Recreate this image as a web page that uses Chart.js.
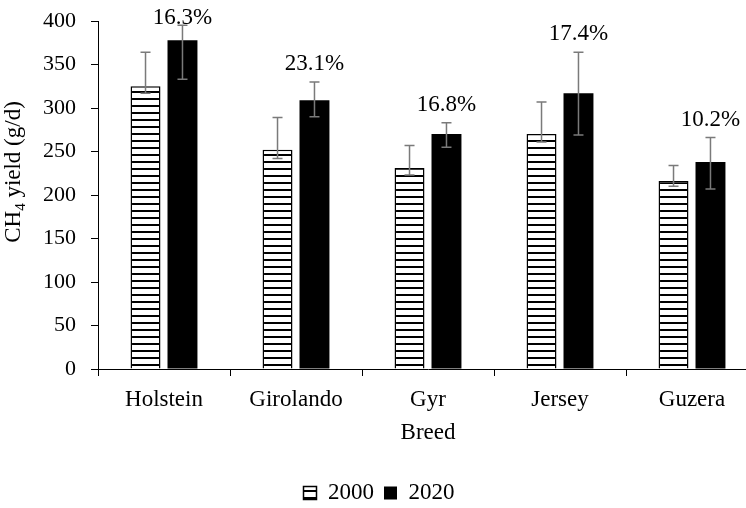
<!DOCTYPE html>
<html>
<head>
<meta charset="utf-8">
<script src="https://cdn.jsdelivr.net/npm/chart.js@4"></script>
<style>
  html, body { margin: 0; padding: 0; background: #fff; overflow: hidden; }
  #wrap { width: 746px; height: 508px; overflow: hidden; position: relative; }
  canvas { display: block; }
</style>
</head>
<body>
<div id="wrap"><canvas id="c" width="766" height="516"></canvas></div>
<script>
// Methane yield by breed, 2000 vs 2020
const breeds = ['Holstein', 'Girolando', 'Gyr', 'Jersey', 'Guzera'];
const yield2000 = [325, 252, 231, 270, 216];
const yield2020 = [378, 309, 270, 317, 238];
// error bar limits (lower / upper)
const low2000 = [317, 242, 223, 261, 210];
const high2000 = [364, 289, 257, 307, 234];
const low2020 = [333, 290, 255, 269, 207];
const high2020 = [395, 330, 283, 364, 266];
// increase from 2000 to 2020
const increaseLabels = ['16.3%', '23.1%', '16.8%', '17.4%', '10.2%'];
const yMin = 0, yMax = 400, yStep = 50;

const FONT = '"Liberation Serif", "Times New Roman", serif';
const canvas = document.getElementById('c');
const ctx = canvas.getContext('2d');

// horizontal stripe fill for the 2000 bars
function stripePattern() {
  const t = document.createElement('canvas');
  t.width = 8; t.height = 7;
  const g = t.getContext('2d');
  g.fillStyle = '#fff';
  g.fillRect(0, 0, 8, 7);
  g.fillStyle = '#000';
  g.fillRect(0, 0, 8, 2);
  return ctx.createPattern(t, 'repeat');
}

const errorBars = {
  id: 'errorBars',
  afterDatasetsDraw(chart) {
    const c = chart.ctx, y = chart.scales.y;
    const limits = [[low2000, high2000], [low2020, high2020]];
    c.save();
    c.strokeStyle = '#7a7a7a';
    c.lineWidth = 1.5;
    limits.forEach((lim, d) => {
      chart.getDatasetMeta(d).data.forEach((bar, i) => {
        const yl = y.getPixelForValue(lim[0][i]);
        const yh = y.getPixelForValue(lim[1][i]);
        c.beginPath();
        c.moveTo(bar.x, yl); c.lineTo(bar.x, yh);
        c.moveTo(bar.x - 5, yl); c.lineTo(bar.x + 5, yl);
        c.moveTo(bar.x - 5, yh); c.lineTo(bar.x + 5, yh);
        c.stroke();
      });
    });
    c.restore();
  }
};

const increaseText = {
  id: 'increaseText',
  afterDatasetsDraw(chart) {
    const c = chart.ctx, y = chart.scales.y, top = chart.chartArea.top;
    c.save();
    c.font = '23px ' + FONT;
    c.fillStyle = '#000';
    c.textAlign = 'center';
    c.textBaseline = 'middle';
    chart.getDatasetMeta(1).data.forEach((bar, i) => {
      const py = Math.max(y.getPixelForValue(high2020[i]) - 18, top - 3);
      c.fillText(increaseLabels[i], bar.x, py);
    });
    c.restore();
  }
};

// y-axis title with subscript
const yTitle = {
  id: 'yTitle',
  afterDraw(chart) {
    const c = chart.ctx;
    const parts = [['CH', 23, 0], ['4', 15, 5], [' yield (g/d)', 23, 0]];
    c.save();
    c.translate(20, 172);
    c.rotate(-Math.PI / 2);
    c.fillStyle = '#000';
    c.textBaseline = 'alphabetic';
    c.textAlign = 'left';
    let total = 0;
    parts.forEach(p => { c.font = p[1] + 'px ' + FONT; total += c.measureText(p[0]).width; });
    let x = -total / 2;
    parts.forEach(p => {
      c.font = p[1] + 'px ' + FONT;
      c.fillText(p[0], x, p[2]);
      x += c.measureText(p[0]).width;
    });
    c.restore();
  }
};

new Chart(canvas, {
  type: 'bar',
  data: {
    labels: breeds,
    datasets: [
      {
        label: '2000',
        data: yield2000,
        backgroundColor: stripePattern(),
        borderColor: '#000',
        borderWidth: 1.5,
        categoryPercentage: 0.56,
        barPercentage: 0.81
      },
      {
        label: '2020',
        data: yield2020,
        backgroundColor: '#000',
        borderColor: '#000',
        borderWidth: 0,
        categoryPercentage: 0.56,
        barPercentage: 0.81
      }
    ]
  },
  options: {
    responsive: false,
    animation: false,
    devicePixelRatio: 1,
    layout: { padding: { top: 21, right: 8, bottom: 1.5, left: 0 } },
    plugins: {
      tooltip: { enabled: false },
      legend: {
        position: 'bottom',
        labels: {
          font: { family: FONT, size: 23 },
          color: '#000',
          boxWidth: 13,
          boxHeight: 13,
          padding: 10
        }
      }
    },
    scales: {
      x: {
        grid: { display: true, drawOnChartArea: false, drawTicks: true, tickLength: 7, color: '#000', offset: true },
        border: { color: '#000', width: 1 },
        ticks: { font: { family: FONT, size: 23 }, color: '#000', padding: 10 },
        title: { display: true, text: 'Breed', font: { family: FONT, size: 23 }, color: '#000', padding: { top: 0, bottom: 25 } },
        afterFit(s) { s.height = 102.5; s.paddingLeft = 0; s.paddingRight = 0; }
      },
      y: {
        min: yMin, max: yMax,
        grid: { display: true, drawOnChartArea: false, drawTicks: true, tickLength: 7, color: '#000' },
        border: { color: '#000', width: 1 },
        ticks: { stepSize: yStep, font: { family: FONT, size: 22 }, color: '#000', padding: 15 },
        afterFit(s) { s.width = 98; s.paddingTop = 0; s.paddingBottom = 0; }
      }
    }
  },
  plugins: [errorBars, increaseText, yTitle]
});
</script>
</body>
</html>
